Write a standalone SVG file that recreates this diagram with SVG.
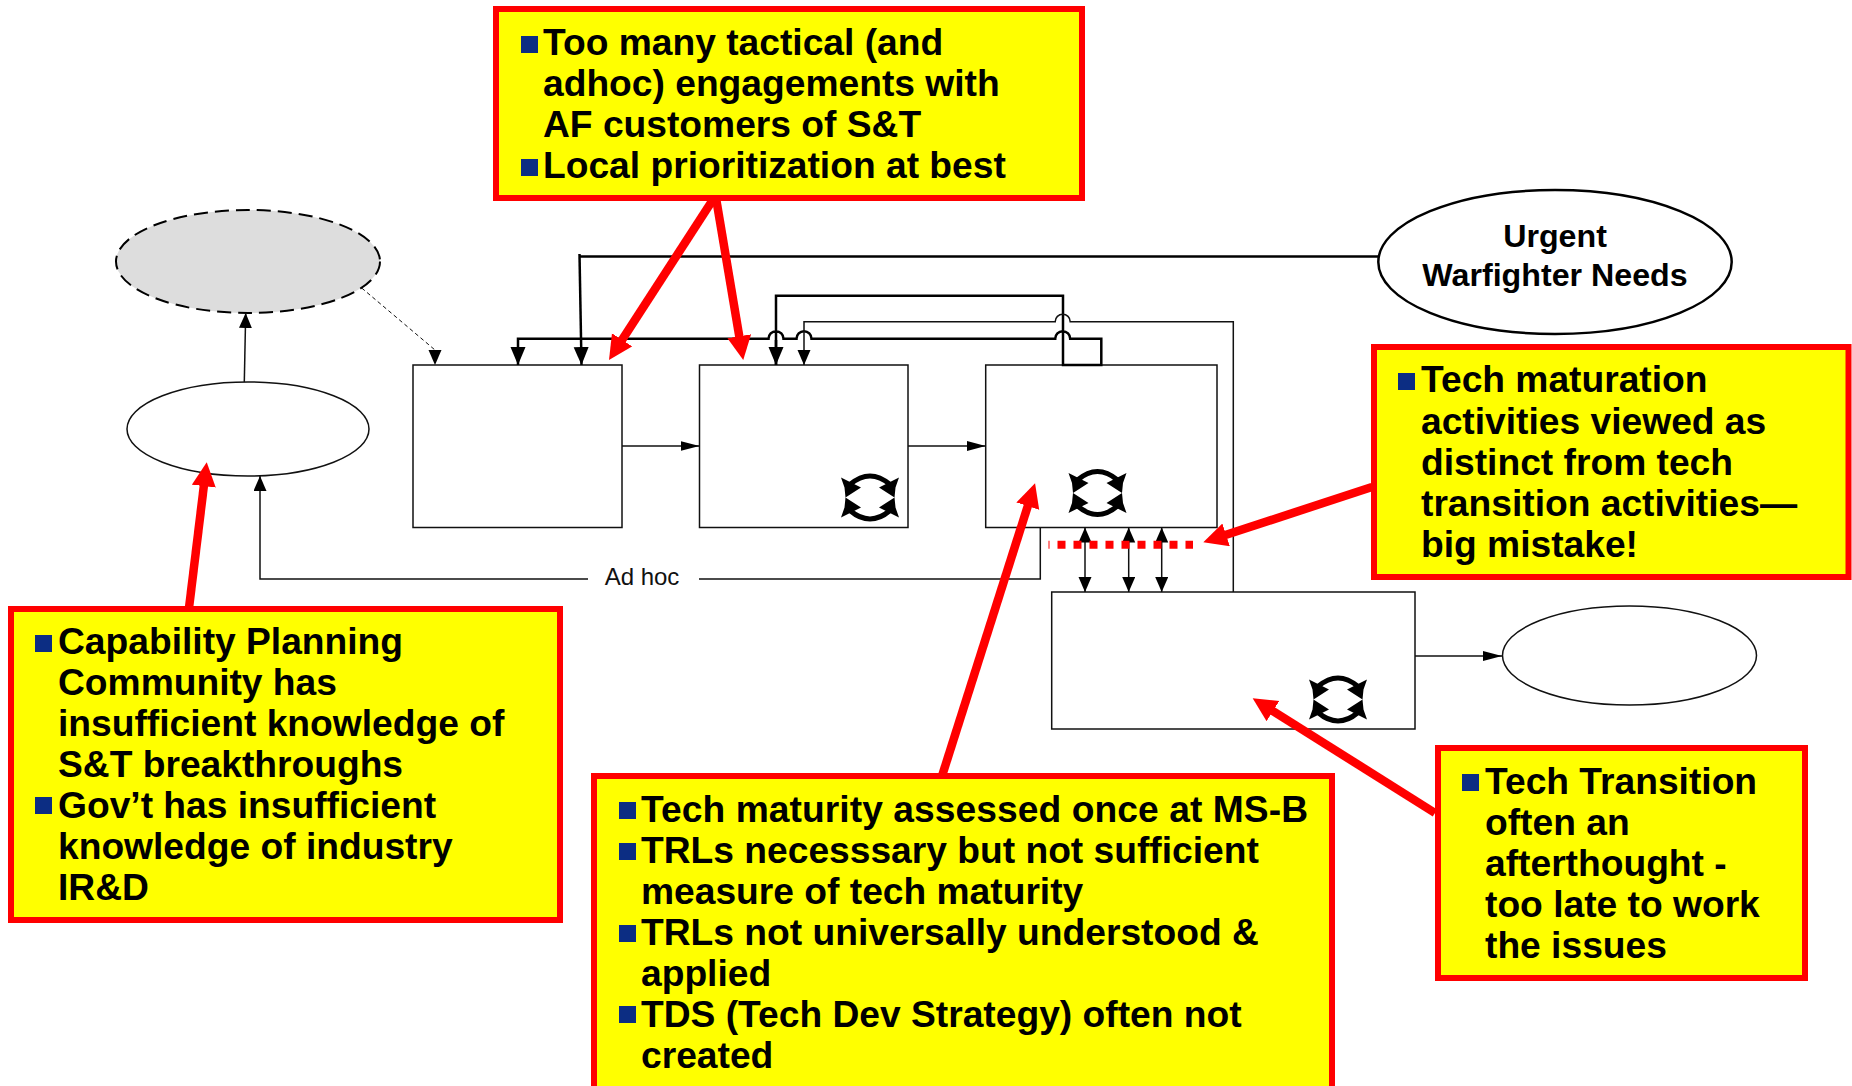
<svg xmlns="http://www.w3.org/2000/svg" width="1852" height="1086" viewBox="0 0 1852 1086">
<style>
.node{fill:#fff;stroke:#111;stroke-width:1.5}
.thin{fill:none;stroke:#111;stroke-width:1.5}
.thick{fill:none;stroke:#000;stroke-width:2.5}
.call{fill:#ff0;stroke:#f00;stroke-width:6}
.t{font-family:"Liberation Sans",Arial,sans-serif;font-weight:700;font-size:37.200px;fill:#000}
.u{font-size:32.200px}
.red{fill:none;stroke:#f00;stroke-width:8.500}
.b{fill:#0c2d83}
</style>
<defs>
<marker id="a" markerUnits="userSpaceOnUse" markerWidth="20" markerHeight="12" refX="19" refY="5" orient="auto"><path d="M0 0L19 5L0 10z" fill="#000"/></marker>
<marker id="v" markerUnits="userSpaceOnUse" markerWidth="16" markerHeight="14" refX="15" refY="6.500" orient="auto"><path d="M0 0L15 6.500L0 13z" fill="#000"/></marker>
<marker id="ah" markerUnits="userSpaceOnUse" markerWidth="19" markerHeight="17" refX="18" refY="7.500" orient="auto"><path d="M0 0L18 7.500L0 15z" fill="#000"/></marker>
<marker id="r" markerUnits="userSpaceOnUse" markerWidth="30" markerHeight="30" refX="8" refY="12" orient="auto"><path d="M0 0L24 12L0 24z" fill="#f00"/></marker>
<g id="loop">
<path d="M-20-13Q0-30 20-13M-20 13Q0 30 20 13" fill="none" stroke="#000" stroke-width="5"/>
<path d="M-29-20L-9-10L-24.500 0L-25.500-10zM29-20L9-10L24.500 0L25.500-10zM-29 20L-9 10L-24.500 0L-25.500 10zM29 20L9 10L24.500 0L25.500 10z" fill="#000"/>
</g>
</defs>
<g id="n-gray"><ellipse cx="248" cy="261.500" rx="132" ry="51.500" fill="#ddd" stroke="#000" stroke-width="2" stroke-dasharray="14 7"/></g>
<g id="n-white"><ellipse cx="248" cy="429" rx="121" ry="47" class="node"/></g>
<g id="n-urgent"><ellipse cx="1555" cy="262" rx="176.700" ry="72" fill="#fff" stroke="#000" stroke-width="2.500"/>
<text class="t u" x="1555" y="247" text-anchor="middle">Urgent</text>
<text class="t u" x="1555" y="285.500" text-anchor="middle">Warfighter Needs</text></g>
<g id="n-right"><ellipse cx="1629.500" cy="655.500" rx="127" ry="49.500" class="node"/></g>
<g id="b1"><rect x="413" y="365" width="209" height="162.500" class="node"/></g>
<g id="b2"><rect x="699.500" y="365" width="208.500" height="162.500" class="node"/><use href="#loop" x="870" y="497.500"/></g>
<g id="b3"><rect x="985.700" y="365" width="231.300" height="162.500" class="node"/><use href="#loop" x="1097.500" y="493"/></g>
<g id="b4"><rect x="1051.700" y="592" width="363.300" height="137" class="node"/><use href="#loop" x="1338" y="699.500"/></g>
<g id="connectors">
<path d="M361.700 288L435 350" fill="none" stroke="#111" stroke-width="1" stroke-dasharray="4 3"/>
<polygon points="428.500,350 441.500,350 435,365" fill="#000"/>
<path class="thin" d="M244.300 382L245.700 313" marker-end="url(#v)"/>
<path class="thin" d="M622 446H699.500" marker-end="url(#a)"/>
<path class="thin" d="M908 446H985.700" marker-end="url(#a)"/>
<path class="thin" d="M1415 656H1502" marker-end="url(#a)"/>
<path class="thin" d="M1040.300 527.500V579H699M588 579H260V476" marker-end="url(#v)"/>
<path class="thin" d="M1085 545V527.500" marker-end="url(#v)"/>
<path class="thin" d="M1085 545V592" marker-end="url(#v)"/>
<path class="thin" d="M1128.700 545V527.500" marker-end="url(#v)"/>
<path class="thin" d="M1128.700 545V592" marker-end="url(#v)"/>
<path class="thin" d="M1161.700 545V527.500" marker-end="url(#v)"/>
<path class="thin" d="M1161.700 545V592" marker-end="url(#v)"/>
<path class="thick" d="M1378 256.500H580"/>
<path class="thick" d="M579.500 254L581.500 365" marker-end="url(#ah)"/>
<path class="thick" d="M776 365V295.700H1063V365H1101.300V338.700H1070.200A7.500 7.500 0 0 0 1055.200 338.700H811.500A7.500 7.500 0 0 0 796.500 338.700H783.500A7.500 7.500 0 0 0 768.500 338.700H518V365" marker-end="url(#ah)"/>
<path class="thick" d="M776 340V365" marker-end="url(#ah)"/>
<path class="thin" d="M1233.300 592V321.700H1070.200A7.500 7.500 0 0 0 1055.200 321.700H804V365" marker-end="url(#v)"/>
<path class="red" d="M714 198L617.700 346.600" marker-end="url(#r)"/>
<path class="red" d="M716 198L740.600 344.200" marker-end="url(#r)"/>
<path class="red" d="M189 608L204.800 478.200" marker-end="url(#r)"/>
<path class="red" d="M942 776L1030.200 498.500" marker-end="url(#r)"/>
<path class="red" d="M1372 487L1218.500 537.300" marker-end="url(#r)"/>
<path class="red" d="M1435 813L1266.200 706.800" marker-end="url(#r)"/>
<path d="M1048.500 544.700H1193" fill="none" stroke="#f00" stroke-width="8" stroke-dasharray="8 8" stroke-dashoffset="7"/>
</g>
<text id="adhoc" x="642" y="585" text-anchor="middle" style="font-family:'Liberation Sans',Arial,sans-serif;font-size:24px;fill:#111">Ad hoc</text>
<g id="c1"><rect class="call" x="496" y="9" width="586" height="189"/>
<rect class="b" x="521" y="36" width="17" height="17"/><rect class="b" x="521" y="159" width="17" height="17"/>
<text class="t" x="543" y="55">Too many tactical (and</text><text class="t" x="543" y="96">adhoc) engagements with</text><text class="t" x="543" y="137">AF customers of S&amp;T</text><text class="t" x="543" y="178">Local prioritization at best</text></g>
<g id="c2"><rect class="call" x="1374" y="347" width="474.500" height="230"/>
<rect class="b" x="1398" y="373" width="17" height="17"/>
<text class="t" x="1421" y="392">Tech maturation</text><text class="t" x="1421" y="434">activities viewed as</text><text class="t" x="1421" y="475">distinct from tech</text><text class="t" x="1421" y="516">transition activities—</text><text class="t" x="1421" y="557">big mistake!</text></g>
<g id="c3"><rect class="call" x="11" y="609" width="549" height="311"/>
<rect class="b" x="35" y="635" width="17" height="17"/><rect class="b" x="35" y="797" width="17" height="17"/>
<text class="t" x="58" y="654">Capability Planning</text><text class="t" x="58" y="695">Community has</text><text class="t" x="58" y="736">insufficient knowledge of</text><text class="t" x="58" y="777">S&amp;T breakthroughs</text><text class="t" x="58" y="818">Gov’t has insufficient</text><text class="t" x="58" y="859">knowledge of industry</text><text class="t" x="58" y="900">IR&amp;D</text></g>
<g id="c4"><rect class="call" x="594" y="776" width="738" height="320"/>
<rect class="b" x="619" y="802" width="17" height="17"/><rect class="b" x="619" y="843" width="17" height="17"/><rect class="b" x="619" y="925" width="17" height="17"/><rect class="b" x="619" y="1006" width="17" height="17"/>
<text class="t" x="641" y="822" textLength="667">Tech maturity assessed once at MS-B</text><text class="t" x="641" y="863">TRLs necesssary but not sufficient</text><text class="t" x="641" y="904">measure of tech maturity</text><text class="t" x="641" y="945">TRLs not universally understood &amp;</text><text class="t" x="641" y="986">applied</text><text class="t" x="641" y="1027">TDS (Tech Dev Strategy) often not</text><text class="t" x="641" y="1068">created</text></g>
<g id="c5"><rect class="call" x="1438" y="748" width="367" height="230"/>
<rect class="b" x="1462" y="774" width="17" height="17"/>
<text class="t" x="1485" y="794">Tech Transition</text><text class="t" x="1485" y="835">often an</text><text class="t" x="1485" y="876">afterthought -</text><text class="t" x="1485" y="917">too late to work</text><text class="t" x="1485" y="958">the issues</text></g>
</svg>
